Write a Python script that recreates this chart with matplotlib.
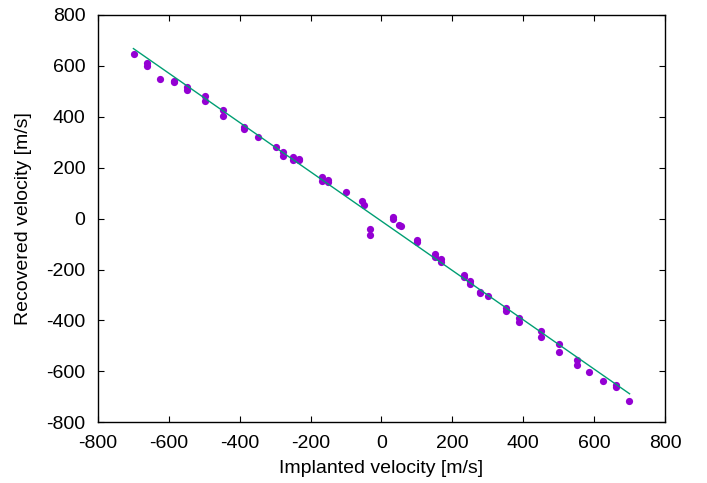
import matplotlib
matplotlib.use("Agg")
import matplotlib.pyplot as plt
import numpy as np

# implanted vs recovered velocity (m/s)
implanted = [-699, -662, -662, -624, -586, -586, -549, -549, -499, -499,
             -448, -448, -389, -389, -348, -299, -279, -279, -250, -250,
             -234, -234, -167, -167, -150, -150, -99, -55, -49, -33, -33,
             33, 33, 50, 55, 101, 101, 151, 151, 167, 167, 234, 234,
             251, 251, 278, 278, 300, 350, 350, 388, 388, 450, 450,
             500, 500, 551, 551, 586, 624, 662, 662, 699]
recovered = [648, 613, 600, 548, 542, 535, 516, 507, 483, 462,
             426, 403, 360, 352, 322, 280, 263, 246, 241, 231,
             234, 229, 163, 149, 152, 145, 104, 71, 54, -42, -63,
             8, 0, -24, -28, -85, -92, -140, -149, -160, -170, -221, -228,
             -245, -255, -287, -293, -305, -352, -361, -390, -408, -441, -466,
             -493, -522, -555, -575, -602, -639, -652, -662, -717]

# linear fit line shown in the chart
fit_slope = -0.9685
fit_intercept = -10.0
fit_range = [-700, 700]

ticks = [-800, -600, -400, -200, 0, 200, 400, 600, 800]

plt.rcParams['font.family'] = ['Liberation Sans', 'DejaVu Sans']
plt.rcParams['font.size'] = 14
plt.rcParams['axes.unicode_minus'] = False

fig = plt.figure(figsize=(7.07, 4.83), dpi=100)
ax = fig.add_axes([0.1386, 0.1257, 0.8020, 0.8433])

ax.plot(implanted, recovered, linestyle='', marker='o', markersize=5.2,
        color='#9400d3', markeredgewidth=0)
fx = np.array(fit_range)
ax.plot(fx, fit_slope * fx + fit_intercept, color='#009e73', linewidth=1.0)

ax.set_xlim(-800, 800)
ax.set_ylim(-800, 800)
ax.set_xticks(ticks)
ax.set_yticks(ticks)
ax.tick_params(axis='x', direction='in', length=4.5, width=0.8, top=True,
               labelsize=14, pad=9)
ax.tick_params(axis='y', direction='in', length=4.5, width=0.8, right=True,
               labelsize=14, pad=9)
for s in ax.spines.values():
    s.set_linewidth(1.0)
    s.set_color('black')

ax.set_xlabel("Implanted velocity [m/s]", fontsize=14, labelpad=6)
ax.set_ylabel("Recovered velocity [m/s]", fontsize=14, labelpad=10)

fig.savefig("out.png", dpi=100)
